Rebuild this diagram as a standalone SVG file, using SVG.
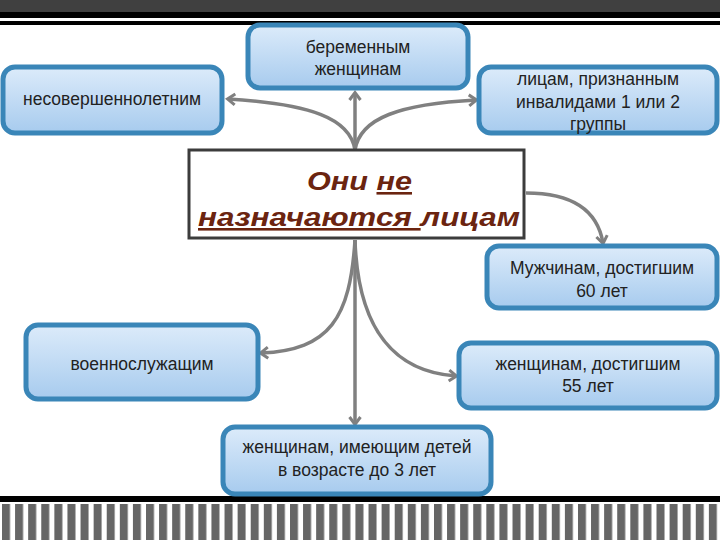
<svg xmlns="http://www.w3.org/2000/svg" width="720" height="540" viewBox="0 0 720 540">
<defs>
<linearGradient id="g" x1="0" y1="0" x2="0" y2="1">
<stop offset="0" stop-color="#dcebfa"/>
<stop offset="1" stop-color="#a7cbee"/>
</linearGradient>
<pattern id="stripes" x="2" y="0" width="13.09" height="40" patternUnits="userSpaceOnUse">
<rect x="0" y="0" width="8" height="40" fill="#666666"/>
</pattern>
<marker id="arr" markerWidth="14" markerHeight="14" refX="9" refY="7" orient="auto" markerUnits="userSpaceOnUse">
<path d="M2,1.5 L9.5,7 L2,12.5" fill="none" stroke="#808080" stroke-width="3" stroke-linejoin="miter"/>
</marker>
</defs>
<style>
.box{fill:url(#g);stroke:#3a86b8;stroke-width:5}
.t{font-family:"Liberation Sans",Arial,sans-serif;font-size:17.5px;fill:#222;text-anchor:middle}
.c{fill:none;stroke:#808080;stroke-width:3.5;marker-end:url(#arr)}
.main{font-family:"Liberation Sans",Arial,sans-serif;font-size:26px;font-weight:bold;font-style:italic;fill:#6b2410}
</style>
<rect x="0" y="0" width="720" height="12" fill="#404040"/>
<rect x="0" y="12" width="720" height="6" fill="#000"/>
<rect x="0" y="21" width="720" height="4" fill="#000"/>
<rect x="0" y="496" width="720" height="6" fill="#000"/>
<rect x="0" y="504" width="720" height="36" fill="url(#stripes)"/>
<g id="connectors">
<path class="c" d="M355,150 L355,93"/>
<path class="c" d="M355,150 C350,118 310,104 228,99"/>
<path class="c" d="M355,150 C360,118 400,104 476,100"/>
<path class="c" d="M526,193 C570,193 597,208 603,243"/>
<path class="c" d="M355,240 L355,424"/>
<path class="c" d="M355,240 C350,318 330,350 261,353"/>
<path class="c" d="M355,240 C358,330 395,372 456,376"/>
</g>
<g id="n1">
<rect class="box" x="248" y="25" width="220" height="63" rx="12"/>
<text class="t" x="358" y="53">беременным</text>
<text class="t" x="358" y="75">женщинам</text>
</g>
<g id="n2">
<rect class="box" x="3" y="67" width="219" height="66" rx="12"/>
<text class="t" x="112" y="105">несовершеннолетним</text>
</g>
<g id="n3">
<rect class="box" x="479" y="67" width="238" height="66" rx="12"/>
<text class="t" x="598" y="85">лицам, признанным</text>
<text class="t" x="598" y="108">инвалидами 1 или 2</text>
<text class="t" x="598" y="130">группы</text>
</g>
<g id="center">
<rect x="189" y="150" width="335" height="88" fill="#fff" stroke="#3c3c3c" stroke-width="3"/>
<text class="main" x="307" y="190" textLength="105" lengthAdjust="spacingAndGlyphs">Они <tspan text-decoration="underline">не</tspan></text>
<text class="main" x="198" y="226" textLength="322" lengthAdjust="spacingAndGlyphs"><tspan text-decoration="underline">назначаются </tspan>лицам</text>
</g>
<g id="n4">
<rect class="box" x="487" y="246" width="230" height="62" rx="12"/>
<text class="t" x="602" y="274">Мужчинам, достигшим</text>
<text class="t" x="602" y="297">60 лет</text>
</g>
<g id="n5">
<rect class="box" x="26" y="325" width="232" height="74" rx="12"/>
<text class="t" x="142" y="370">военнослужащим</text>
</g>
<g id="n6">
<rect class="box" x="459" y="343" width="258" height="65" rx="12"/>
<text class="t" x="588" y="370">женщинам, достигшим</text>
<text class="t" x="588" y="392">55 лет</text>
</g>
<g id="n7">
<rect class="box" x="223" y="427" width="268" height="67" rx="12"/>
<text class="t" x="357" y="453">женщинам, имеющим детей</text>
<text class="t" x="357" y="476">в возрасте до 3 лет</text>
</g>
</svg>
